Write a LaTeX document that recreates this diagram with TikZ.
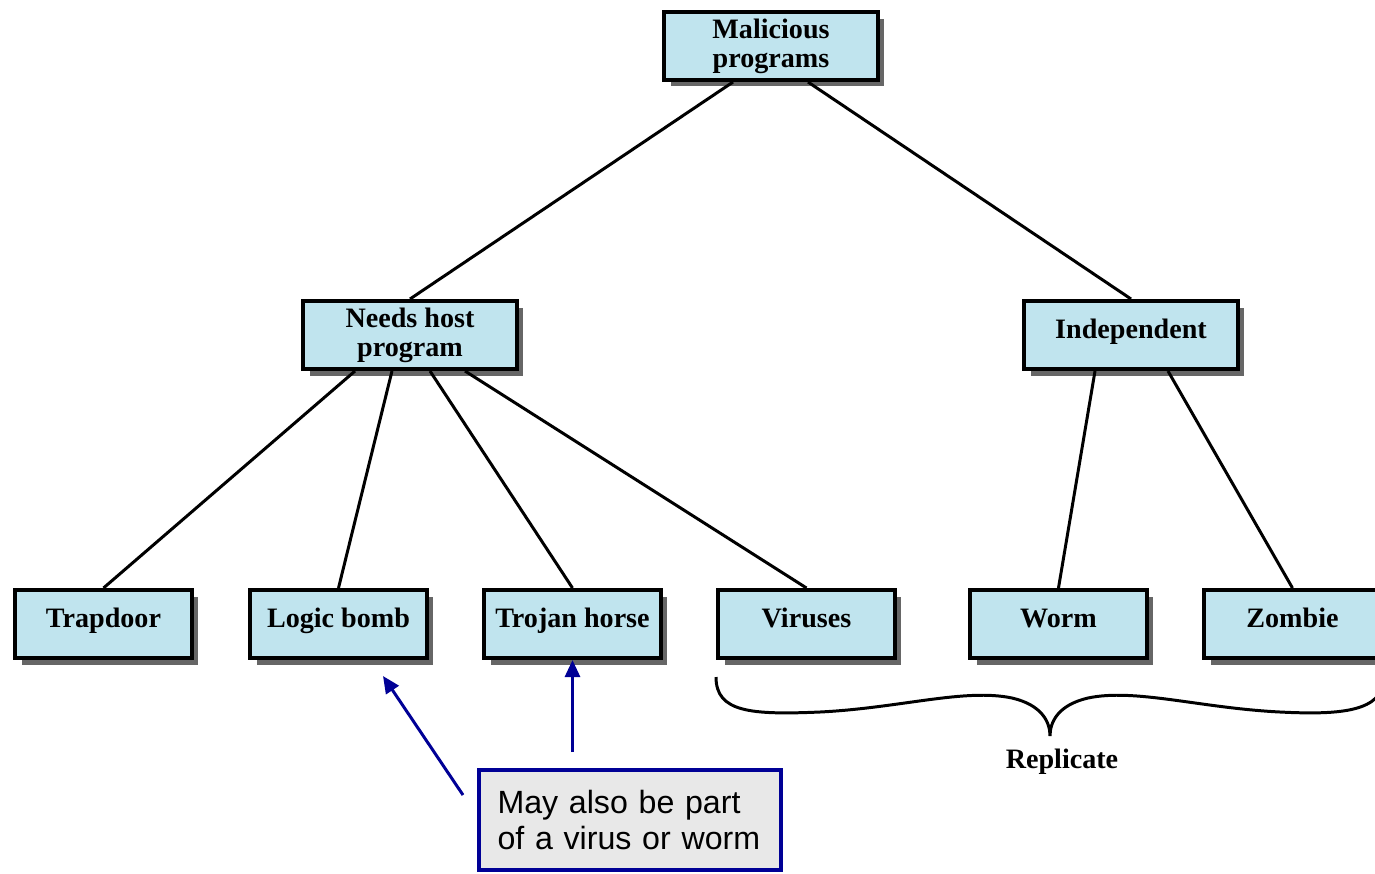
\documentclass[tikz,border=0pt]{standalone}
\usepackage{fontspec}
\setmainfont{Liberation Serif}
\newfontfamily\calloutfont{Liberation Sans}
\usepackage{xcolor}
\usepackage{tikz}
\usetikzlibrary{shadows, arrows.meta, positioning}

\definecolor{boxblue}{RGB}{192,228,238}
\definecolor{notenavy}{RGB}{0,0,150}
\definecolor{notegray}{RGB}{232,232,232}

\begin{document}
\begin{tikzpicture}[
    x=0.02cm, y=-0.02cm,
    % Caixas da hierarquia com sombra
    box/.style={rectangle, draw=black, line width=2.3pt, fill=boxblue, minimum height=1.36cm, minimum width=3.54cm, align=center, inner sep=2pt, font=\bfseries\fontsize{16}{16.5}\selectfont, drop shadow={shadow xshift=0.13cm, shadow yshift=-0.13cm, fill=black!60, opacity=1}},
    % Caixas de uma linha so
    leaf/.style={box, text height=11pt, text depth=7.2pt},
    widebox/.style={minimum width=4.28cm},
    % Caixa da observacao
    note/.style={rectangle, draw=notenavy, line width=2.3pt, fill=notegray, minimum width=6.04cm, minimum height=2.0cm, text width=5.3cm, align=left, font=\calloutfont\fontsize{18.3}{21}\selectfont},
    link/.style={draw=black, line width=1.7pt},
    arrow/.style={-{Triangle[length=0.34cm, width=0.3cm]}, draw=notenavy, line width=1.7pt}
]
\useasboundingbox (0,0) rectangle (1375,873);

% 1. Topo
\node[box, widebox] (mal) at (771,46) {Malicious\\programs};

% 2. Nivel intermediario
\node[box, widebox] (needs) at (410,335) {Needs host\\program};
\node[leaf, widebox] (indep) at (1131,335) {Independent};

% 3. Nivel inferior
\node[leaf] (trap) at (103.5,624) {Trapdoor};
\node[leaf, right=1.08cm of trap] (logic) {Logic bomb};
\node[leaf, right=1.06cm of logic] (trojan) {Trojan horse};
\node[leaf, right=1.06cm of trojan] (virus) {Viruses};
\node[leaf, right=1.42cm of virus] (worm) {Worm};
\node[leaf, right=1.06cm of worm] (zombie) {Zombie};

% 4. Ligacoes
\draw[link] ([xshift=-0.76cm]mal.south) -- (needs.north);
\draw[link] ([xshift=0.74cm]mal.south) -- (indep.north);
\draw[link] ([xshift=-1.1cm]needs.south) -- (trap.north);
\draw[link] ([xshift=-0.36cm]needs.south) -- (logic.north);
\draw[link] ([xshift=0.4cm]needs.south) -- (trojan.north);
\draw[link] ([xshift=1.1cm]needs.south) -- (virus.north);
\draw[link] ([xshift=-0.72cm]indep.south) -- (worm.north);
\draw[link] ([xshift=0.74cm]indep.south) -- (zombie.north);

% 5. Chave e rotulo
\draw[link] (716,677) .. controls (716,712) and (750,715) .. (820,712)
    .. controls (900,708) and (965,688) .. (1012,698)
    .. controls (1042,705) and (1050,722) .. (1050,736)
    .. controls (1050,722) and (1058,705) .. (1088,698)
    .. controls (1135,688) and (1200,708) .. (1280,712)
    .. controls (1340,715) and (1384,712) .. (1384,677);
\node[font=\bfseries\fontsize{16}{16.5}\selectfont] (repl) at (1062,762) {Replicate};

% --- OBSERVACAO ---
\node[note] (obs) at (630,820) {May also be part\\of a virus or worm};
\coordinate (tailA) at (463,795);
\coordinate (tailB) at ([yshift=-1.84cm]trojan.south);
\draw[arrow] (tailA) -- ([xshift=-0.92cm, yshift=-0.32cm]logic.south east);
\draw[arrow] (tailB) -- (trojan.south);

\end{tikzpicture}
\end{document}
